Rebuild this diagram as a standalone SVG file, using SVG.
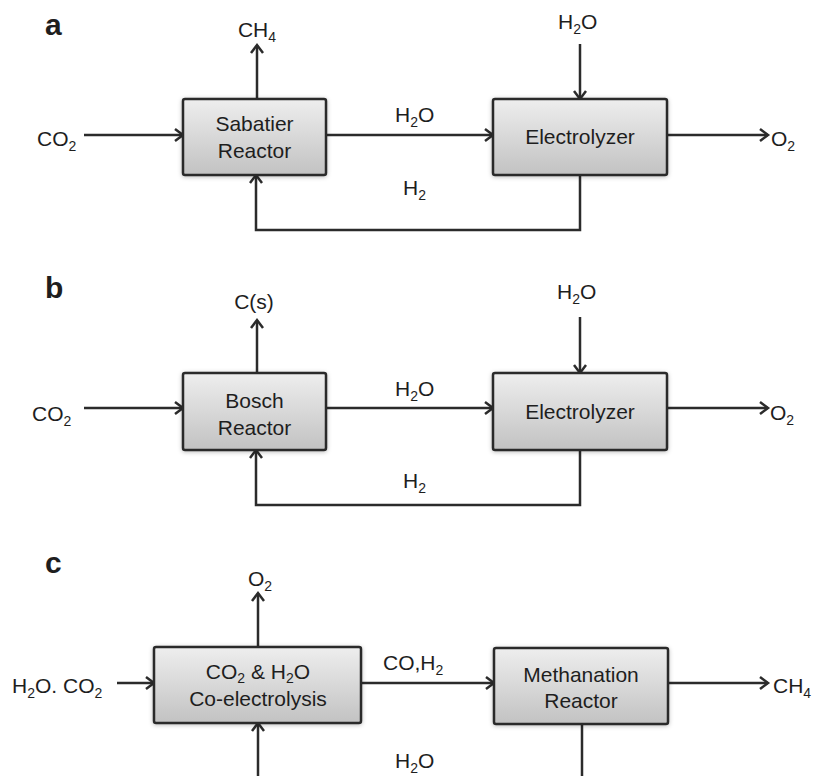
<svg xmlns="http://www.w3.org/2000/svg" width="821" height="776" viewBox="0 0 821 776">
<style>
text{font-family:"Liberation Sans",Arial,Helvetica,sans-serif;font-size:21px;fill:#1e1e1e}
.lbl{font-weight:bold;font-size:30px}
.sub{font-size:14px}
.box{fill:url(#g);stroke:#2b2b2b;stroke-width:2.5;filter:url(#sh)}
.ln{fill:none;stroke:#2b2b2b;stroke-width:2.5}
.ar{marker-end:url(#ah)}
</style>
<defs>
<linearGradient id="g" x1="0" y1="0" x2="0" y2="1">
<stop offset="0" stop-color="#eeeeee"/>
<stop offset="1" stop-color="#c2c2c2"/>
</linearGradient>
<filter id="sh" x="-10%" y="-20%" width="120%" height="140%">
<feDropShadow dx="0" dy="1" stdDeviation="2" flood-color="#000" flood-opacity="0.25"/>
</filter>
<marker id="ah" markerWidth="14" markerHeight="14" refX="10" refY="7" orient="auto" markerUnits="userSpaceOnUse">
<path d="M2,1 L10,7 L2,13" fill="none" stroke="#2b2b2b" stroke-width="2.5"/>
</marker>
</defs>
<rect width="821" height="776" fill="#fff"/>

<g id="connectors">
<line class="ln ar" x1="257" y1="99" x2="257" y2="45"/>
<line class="ln ar" x1="84" y1="135" x2="183" y2="135"/>
<line class="ln ar" x1="326" y1="135" x2="493" y2="135"/>
<line class="ln ar" x1="580" y1="44" x2="580" y2="99"/>
<line class="ln ar" x1="667" y1="135" x2="768" y2="135"/>
<polyline class="ln ar" points="580,175 580,230 256,230 256,175"/>
<line class="ln ar" x1="257" y1="373" x2="257" y2="320"/>
<line class="ln ar" x1="84" y1="408" x2="183" y2="408"/>
<line class="ln ar" x1="326" y1="408" x2="493" y2="408"/>
<line class="ln ar" x1="580" y1="317" x2="580" y2="373"/>
<line class="ln ar" x1="667" y1="408" x2="768" y2="408"/>
<polyline class="ln ar" points="580,450 580,505 256,505 256,450"/>
<line class="ln ar" x1="258" y1="647" x2="258" y2="593"/>
<line class="ln ar" x1="117" y1="683" x2="154" y2="683"/>
<line class="ln ar" x1="361" y1="683" x2="494" y2="683"/>
<line class="ln ar" x1="668" y1="683" x2="768" y2="683"/>
<line class="ln ar" x1="258" y1="780" x2="258" y2="723"/>
<line class="ln" x1="582" y1="724" x2="582" y2="780"/>
</g>

<g id="panel-labels">
<text class="lbl" x="45" y="35">a</text>
<text class="lbl" x="45" y="298">b</text>
<text class="lbl" x="45" y="573">c</text>
</g>

<g id="sabatier">
<rect class="box" x="183" y="99" width="143" height="76" rx="2"/>
<text x="254.5" y="131" text-anchor="middle">Sabatier</text>
<text x="254.5" y="158" text-anchor="middle">Reactor</text>
</g>
<g id="electrolyzer-a">
<rect class="box" x="493" y="99" width="174" height="76" rx="2"/>
<text x="580" y="144" text-anchor="middle">Electrolyzer</text>
</g>
<g id="labels-a">
<text x="257" y="37" text-anchor="middle">CH<tspan class="sub" dy="5">4</tspan></text>
<text x="37" y="146">CO<tspan class="sub" dy="5">2</tspan></text>
<text x="395" y="122">H<tspan class="sub" dy="5">2</tspan><tspan dy="-5">O</tspan></text>
<text x="403" y="195">H<tspan class="sub" dy="5">2</tspan></text>
<text x="558" y="29">H<tspan class="sub" dy="5">2</tspan><tspan dy="-5">O</tspan></text>
<text x="771" y="146">O<tspan class="sub" dy="5">2</tspan></text>
</g>

<g id="bosch">
<rect class="box" x="183" y="373" width="143" height="77" rx="2"/>
<text x="254.5" y="408" text-anchor="middle">Bosch</text>
<text x="254.5" y="435" text-anchor="middle">Reactor</text>
</g>
<g id="electrolyzer-b">
<rect class="box" x="493" y="373" width="174" height="77" rx="2"/>
<text x="580" y="419" text-anchor="middle">Electrolyzer</text>
</g>
<g id="labels-b">
<text x="254" y="309" text-anchor="middle">C(s)</text>
<text x="32" y="421">CO<tspan class="sub" dy="5">2</tspan></text>
<text x="395" y="396">H<tspan class="sub" dy="5">2</tspan><tspan dy="-5">O</tspan></text>
<text x="403" y="488">H<tspan class="sub" dy="5">2</tspan></text>
<text x="557" y="299">H<tspan class="sub" dy="5">2</tspan><tspan dy="-5">O</tspan></text>
<text x="770" y="420">O<tspan class="sub" dy="5">2</tspan></text>
</g>

<g id="coelectrolysis">
<rect class="box" x="154" y="647" width="207" height="76" rx="2"/>
<text x="258" y="679" text-anchor="middle">CO<tspan class="sub" dy="4">2</tspan><tspan dy="-4"> &amp; H</tspan><tspan class="sub" dy="4">2</tspan><tspan dy="-4">O</tspan></text>
<text x="258" y="706" text-anchor="middle">Co-electrolysis</text>
</g>
<g id="methanation">
<rect class="box" x="494" y="648" width="174" height="76" rx="2"/>
<text x="581" y="682" text-anchor="middle">Methanation</text>
<text x="581" y="708" text-anchor="middle">Reactor</text>
</g>
<g id="labels-c">
<text x="260" y="586" text-anchor="middle">O<tspan class="sub" dy="5">2</tspan></text>
<text x="12" y="693">H<tspan class="sub" dy="5">2</tspan><tspan dy="-5">O. CO</tspan><tspan class="sub" dy="5">2</tspan></text>
<text x="383" y="670">CO,H<tspan class="sub" dy="5">2</tspan></text>
<text x="773" y="693">CH<tspan class="sub" dy="5">4</tspan></text>
<text x="395" y="768">H<tspan class="sub" dy="5">2</tspan><tspan dy="-5">O</tspan></text>
</g>
</svg>
